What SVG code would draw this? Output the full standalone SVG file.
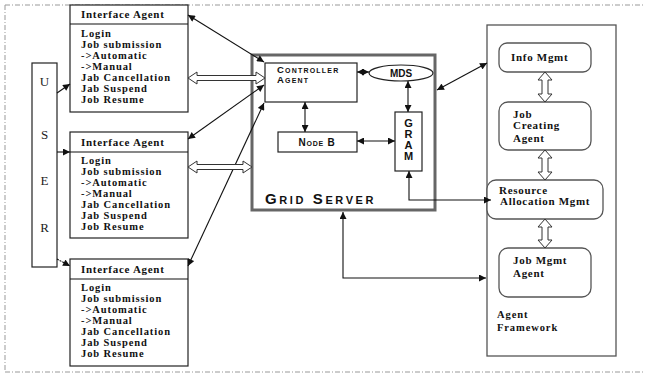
<svg xmlns="http://www.w3.org/2000/svg" width="650" height="377" viewBox="0 0 650 377">
<style>
.bx{fill:#fff;stroke:#222;stroke-width:1.2}
.gb{fill:#fff;stroke:#555;stroke-width:1.3}
.t{font-family:"Liberation Serif","Times New Roman",serif;font-weight:bold;font-size:10.5px;fill:#111;letter-spacing:0.9px}
.ts{font-family:"Liberation Serif","Times New Roman",serif;font-weight:bold;font-size:11px;fill:#111;letter-spacing:0.7px}
.u{font-family:"Liberation Serif","Times New Roman",serif;font-size:13px;fill:#222}
.sc{font-family:"Liberation Sans",Arial,sans-serif;font-weight:bold;font-variant:small-caps;fill:#111}
.ln{fill:none;stroke:#111;stroke-width:1.1}
.hol{fill:#fff;stroke:#333;stroke-width:1}
</style>
<defs>
<marker id="a" viewBox="0 0 10 10" refX="10" refY="5" markerWidth="8" markerHeight="7" markerUnits="userSpaceOnUse" orient="auto-start-reverse">
<path d="M0,0 L10,5 L0,10 z" fill="#111"/>
</marker>
</defs>
<rect width="650" height="377" fill="#fff"/>
<g id="border" fill="none" stroke="#999" stroke-width="1" stroke-dasharray="5,2,1,2">
<line x1="5" y1="5" x2="645" y2="5"/>
<line x1="5" y1="5" x2="5" y2="372"/>
<line x1="5" y1="372" x2="645" y2="372"/>
</g>

<g id="user">
<rect class="bx" x="32" y="63" width="25" height="204"/>
<text class="u" x="44.5" y="86" text-anchor="middle">U</text>
<text class="u" x="44.5" y="139" text-anchor="middle">S</text>
<text class="u" x="44.5" y="185" text-anchor="middle">E</text>
<text class="u" x="44.5" y="232" text-anchor="middle">R</text>
</g>

<g id="ia1">
<rect class="bx" x="70" y="5" width="118" height="107"/>
<line class="ln" x1="70" y1="24" x2="188" y2="24"/>
<text class="ts" x="81" y="18" letter-spacing="1">Interface Agent</text>
<text class="t" x="81" y="37">Login</text>
<text class="t" x="81" y="48">Job submission</text>
<text class="t" x="81" y="59">-&gt;Automatic</text>
<text class="t" x="81" y="70">-&gt;Manual</text>
<text class="t" x="81" y="81">Jab Cancellation</text>
<text class="t" x="81" y="92">Jab Suspend</text>
<text class="t" x="81" y="103">Job Resume</text>
</g>

<g id="ia2">
<rect class="bx" x="70" y="132" width="118" height="106"/>
<line class="ln" x1="70" y1="152" x2="188" y2="152"/>
<text class="ts" x="81" y="146" letter-spacing="1">Interface Agent</text>
<text class="t" x="81" y="164">Login</text>
<text class="t" x="81" y="175">Job submission</text>
<text class="t" x="81" y="186">-&gt;Automatic</text>
<text class="t" x="81" y="197">-&gt;Manual</text>
<text class="t" x="81" y="208">Jab Cancellation</text>
<text class="t" x="81" y="219">Jab Suspend</text>
<text class="t" x="81" y="230">Job Resume</text>
</g>

<g id="ia3">
<rect class="bx" x="70" y="259" width="118" height="107"/>
<line class="ln" x1="70" y1="279" x2="188" y2="279"/>
<text class="ts" x="81" y="273" letter-spacing="1">Interface Agent</text>
<text class="t" x="81" y="291">Login</text>
<text class="t" x="81" y="302">Job submission</text>
<text class="t" x="81" y="313">-&gt;Automatic</text>
<text class="t" x="81" y="324">-&gt;Manual</text>
<text class="t" x="81" y="335">Jab Cancellation</text>
<text class="t" x="81" y="346">Jab Suspend</text>
<text class="t" x="81" y="357">Job Resume</text>
</g>

<g id="gridserver">
<rect x="252" y="55" width="183" height="155" fill="#fff" stroke="#666" stroke-width="3"/>
<text class="sc" x="265" y="204" font-size="15" letter-spacing="2.6">Grid Server</text>
</g>

<g id="controller">
<rect class="bx" x="265" y="63" width="92" height="39"/>
<text class="sc" x="277" y="73" font-size="9.5" letter-spacing="1.2">Controller</text>
<text class="sc" x="277" y="83" font-size="9.5" letter-spacing="1.2">Agent</text>
</g>

<g id="mds">
<ellipse cx="401" cy="73" rx="32" ry="8" fill="#fff" stroke="#222" stroke-width="1.2"/>
<text class="sc" x="401" y="77" font-size="10" text-anchor="middle">MDS</text>
</g>

<g id="gram">
<rect class="bx" x="395" y="112" width="27" height="59"/>
<text class="sc" x="408.5" y="127" font-size="11" text-anchor="middle">G</text>
<text class="sc" x="408.5" y="138" font-size="11" text-anchor="middle">R</text>
<text class="sc" x="408.5" y="149" font-size="11" text-anchor="middle">A</text>
<text class="sc" x="408.5" y="160" font-size="11" text-anchor="middle">M</text>
</g>

<g id="nodeb">
<rect class="bx" x="278" y="132" width="79" height="20"/>
<text class="sc" x="317" y="146" font-size="10" text-anchor="middle" letter-spacing="0.8">Node B</text>
</g>

<g id="agentframework">
<rect class="gb" x="487" y="25" width="129" height="331"/>
<text class="t" x="497" y="318" font-size="12" letter-spacing="1">Agent</text>
<text class="t" x="497" y="331" font-size="12" letter-spacing="1">Framework</text>
</g>

<g id="infomgmt">
<rect class="gb" x="499" y="43" width="92" height="29" rx="8"/>
<text class="ts" x="511" y="61">Info Mgmt</text>
</g>

<g id="jobcreating">
<rect class="gb" x="499" y="102" width="92" height="48" rx="9"/>
<text class="ts" x="513" y="118">Job</text>
<text class="ts" x="513" y="129">Creating</text>
<text class="ts" x="513" y="142">Agent</text>
</g>

<g id="resalloc">
<rect class="gb" x="487" y="180" width="116" height="39" rx="9"/>
<text class="ts" x="499" y="194" font-size="10" letter-spacing="0.3">Resource</text>
<text class="ts" x="500" y="205" font-size="10" letter-spacing="0.3">Allocation  Mgmt</text>
</g>

<g id="jobmgmt">
<rect class="gb" x="499" y="248" width="92" height="49" rx="9"/>
<text class="ts" x="513" y="264">Job Mgmt</text>
<text class="ts" x="513" y="277">Agent</text>
</g>

<g id="connectors">
<line class="ln" x1="57" y1="93" x2="70" y2="84" marker-end="url(#a)"/>
<line class="ln" x1="57" y1="152" x2="70" y2="152" marker-end="url(#a)"/>
<line class="ln" x1="57" y1="259" x2="70" y2="266" stroke-dasharray="2,1" marker-end="url(#a)"/>

<line class="ln" x1="188" y1="15" x2="264" y2="62" marker-start="url(#a)" marker-end="url(#a)"/>
<line class="ln" x1="188" y1="139" x2="264" y2="85" marker-start="url(#a)" marker-end="url(#a)"/>
<line class="ln" x1="188" y1="266" x2="264" y2="103" marker-start="url(#a)" marker-end="url(#a)"/>

<polygon class="hol" points="188,78 197,72 197,75.5 256,75.5 256,72 265,78 256,84 256,80.5 197,80.5 197,84"/>
<polygon class="hol" points="188,167 197,161 197,164.5 243,164.5 243,161 252,167 243,173 243,169.5 197,169.5 197,173"/>

<line class="ln" x1="357" y1="72" x2="369" y2="72" marker-start="url(#a)" marker-end="url(#a)"/>
<line class="ln" x1="408" y1="81" x2="408" y2="112" marker-start="url(#a)" marker-end="url(#a)"/>
<line class="ln" x1="305" y1="102" x2="305" y2="132" marker-start="url(#a)" marker-end="url(#a)"/>
<line class="ln" x1="357" y1="141" x2="395" y2="141" marker-start="url(#a)" marker-end="url(#a)"/>

<line class="ln" x1="437" y1="90" x2="487" y2="63" marker-start="url(#a)" marker-end="url(#a)"/>
<polyline class="ln" points="409,171 409,200 491,200" marker-start="url(#a)" marker-end="url(#a)"/>
<polyline class="ln" points="343,212 343,278 486,278" marker-start="url(#a)" marker-end="url(#a)"/>

<polygon class="hol" points="545,72 552,80 548,80 548,94 552,94 545,102 538,94 542,94 542,80 538,80"/>
<polygon class="hol" points="545,150 552,158 548,158 548,172 552,172 545,180 538,172 542,172 542,158 538,158"/>
<polygon class="hol" points="545,219 552,227 548,227 548,240 552,240 545,248 538,240 542,240 542,227 538,227"/>
</g>
</svg>
